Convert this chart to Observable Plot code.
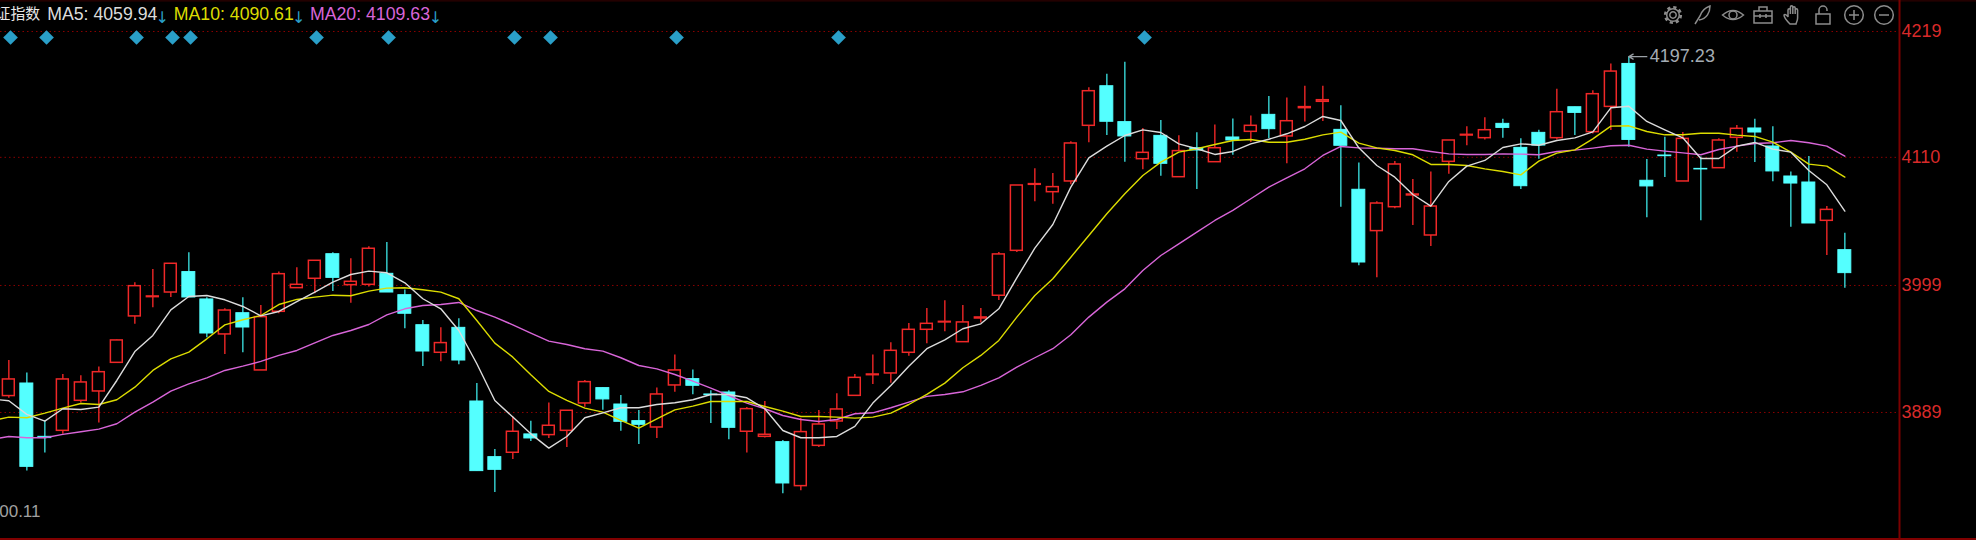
<!DOCTYPE html>
<html><head><meta charset="utf-8">
<script src="https://cdn.jsdelivr.net/npm/d3@7"></script>
<script src="https://cdn.jsdelivr.net/npm/@observablehq/plot@0.6"></script>
<style>html,body{margin:0;padding:0;background:#000;overflow:hidden}svg{display:block}</style>
</head><body><div id="chart"></div>
<script>
const highs=[3934.0,3923.1,3882.1,3921.9,3920.8,3928.3,3951.7,4001.3,4012.9,4018.1,4027.3,3988.3,3978.8,3988.3,3981.7,4010.6,4014.3,4020.7,4027.3,4022.1,4032.5,4036.2,3995.0,3968.7,3962.3,3970.1,3914.1,3857.0,3885.0,3881.5,3897.1,3890.5,3916.7,3910.1,3903.7,3890.7,3910.1,3938.7,3925.7,3907.8,3907.8,3893.3,3898.5,3864.8,3883.8,3890.7,3905.2,3921.9,3938.7,3949.3,3966.1,3979.1,3985.7,3981.7,3979.1,4027.6,4085.6,4100.1,4096.0,4123.4,4170.2,4182.0,4192.4,4135.0,4141.9,4128.6,4131.2,4137.9,4143.1,4145.7,4162.7,4161.3,4171.6,4171.6,4154.6,4105.2,4071.5,4106.4,4090.8,4097.4,4124.6,4136.4,4144.2,4143.0,4126.0,4133.5,4169.0,4153.4,4167.6,4190.9,4197.23,4108.1,4127.5,4131.5,4110.2,4126.0,4137.6,4143.0,4136.4,4097.4,4110.7,4067.4,4044.3];
const opens=[3903.2,3914.1,3867.9,3873.1,3899.1,3907.2,3932.0,3972.2,3988.9,3992.9,4010.6,3986.9,3956.6,3975.0,3925.4,3976.2,3996.7,4004.8,4026.1,3999.3,3999.6,4009.1,3990.6,3964.6,3940.7,3962.3,3898.5,3850.3,3854.1,3870.0,3869.4,3873.1,3896.8,3910.1,3895.9,3881.5,3876.0,3912.4,3917.9,3904.6,3906.3,3872.3,3867.9,3863.3,3825.2,3860.1,3881.2,3903.4,3921.3,3922.8,3940.7,3960.6,3967.0,3949.9,3970.4,3990.1,4029.0,4086.2,4079.8,4089.1,4137.3,4171.6,4140.5,4108.4,4128.6,4092.8,4117.9,4105.8,4127.2,4132.1,4146.8,4128.1,4152.6,4158.1,4133.8,4081.9,4046.1,4066.8,4077.0,4042.3,4106.1,4128.9,4126.6,4139.0,4118.2,4131.2,4126.6,4153.4,4131.8,4153.7,4190.9,4089.7,4111.6,4089.1,4100.0,4100.6,4126.9,4135.0,4119.4,4093.4,4088.2,4055.0,4029.6];
const closes=[3917.6,3841.9,3866.8,3917.6,3915.0,3923.9,3951.4,3998.4,3989.5,4017.8,3988.6,3957.4,3977.3,3962.6,3971.6,4008.8,3999.6,4020.4,4005.6,4002.2,4030.8,3992.9,3974.5,3941.8,3949.1,3934.0,3838.2,3839.3,3872.3,3866.5,3877.5,3890.5,3915.3,3900.3,3880.9,3878.3,3904.6,3925.4,3912.1,3904.0,3875.7,3891.9,3869.7,3827.5,3872.0,3878.6,3891.6,3919.0,3921.9,3942.4,3960.6,3965.8,3967.5,3967.0,3971.3,4025.9,4085.6,4086.8,4084.2,4122.0,4167.3,4140.8,4128.1,4113.9,4104.4,4115.4,4115.9,4117.9,4124.6,4137.3,4134.4,4141.3,4153.5,4159.5,4120.0,4018.9,4070.0,4103.8,4077.8,4067.4,4124.6,4129.5,4133.5,4135.5,4085.0,4120.2,4149.1,4148.5,4164.7,4184.3,4125.1,4084.8,4111.0,4126.0,4099.5,4124.6,4134.7,4131.5,4097.8,4087.3,4052.7,4064.5,4009.7];
const lows=[3901.4,3838.2,3853.8,3870.2,3897.1,3879.8,3932.0,3965.5,3979.7,3988.6,3988.6,3953.7,3939.2,3940.7,3925.4,3974.5,3996.7,3991.8,3993.8,3983.7,3997.6,3992.9,3961.5,3928.8,3932.9,3930.3,3838.2,3819.7,3848.3,3863.9,3866.5,3858.7,3893.6,3891.0,3872.8,3861.3,3866.5,3906.6,3904.3,3879.5,3865.3,3853.8,3866.8,3818.6,3821.2,3858.7,3874.3,3903.4,3913.3,3914.4,3937.8,3948.5,3958.9,3949.9,3966.4,3986.0,4027.6,4071.5,4069.4,4086.2,4122.6,4128.9,4105.8,4099.2,4093.7,4092.8,4082.2,4105.8,4111.9,4122.9,4126.0,4104.4,4140.5,4141.0,4066.8,4016.0,4005.6,4065.4,4051.0,4032.8,4095.4,4120.0,4125.1,4126.6,4082.1,4108.4,4125.1,4128.9,4130.3,4133.2,4118.8,4057.6,4092.5,4089.1,4055.0,4100.6,4114.5,4105.5,4088.8,4049.5,4052.7,4025.0,3996.7];
// moving averages start one session before the first visible candle (clipped at the left edge)
const ma5=[3900.8,3899.1,3887.3,3881.5,3892.2,3891.6,3893.6,3916.7,3941.8,3955.7,3977.9,3989.5,3990.3,3986.6,3980.8,3972.7,3976.5,3985.1,3993.2,4001.9,4008.5,4011.4,4010.0,4001.3,3987.5,3978.8,3960.0,3931.2,3899.4,3885.0,3870.5,3858.1,3868.2,3884.4,3888.7,3893.1,3893.1,3895.9,3897.4,3900.0,3904.6,3904.6,3901.7,3892.2,3873.4,3867.1,3867.1,3868.2,3876.9,3897.1,3912.4,3929.1,3944.2,3951.9,3961.5,3965.8,3978.8,4005.6,4031.3,4051.8,4084.2,4109.6,4119.7,4128.9,4133.8,4131.5,4121.7,4117.4,4112.5,4115.1,4121.7,4125.7,4130.4,4136.7,4145.4,4141.9,4118.2,4102.9,4092.8,4077.8,4067.7,4089.1,4102.4,4107.3,4118.5,4121.7,4120.5,4124.6,4126.9,4132.1,4152.9,4154.3,4141.1,4133.8,4126.9,4109.0,4109.0,4119.7,4122.9,4117.1,4114.5,4098.6,4086.2,4063.4];
const ma10=[3881.5,3885.0,3884.4,3888.4,3892.8,3896.8,3895.9,3900.0,3910.9,3925.4,3935.5,3941.3,3952.8,3964.9,3969.3,3973.0,3982.5,3986.9,3988.9,3990.6,3990.1,3994.1,3996.7,3997.0,3995.3,3993.2,3987.5,3968.7,3949.1,3936.9,3921.6,3907.2,3899.4,3892.8,3889.3,3882.1,3875.4,3883.5,3891.3,3894.5,3898.5,3898.5,3898.5,3894.2,3890.2,3885.5,3885.5,3885.0,3884.1,3885.0,3888.4,3895.9,3904.6,3914.4,3927.7,3938.4,3951.4,3971.6,3990.3,4004.8,4023.5,4042.3,4061.1,4078.4,4094.3,4105.8,4114.5,4117.4,4121.1,4124.6,4125.5,4123.1,4123.1,4125.7,4129.5,4131.8,4122.3,4118.2,4115.9,4112.2,4103.8,4103.8,4102.9,4100.0,4097.7,4094.8,4106.7,4113.6,4116.5,4126.0,4137.0,4137.3,4132.4,4129.5,4129.5,4130.9,4130.9,4129.2,4128.1,4123.2,4114.5,4104.1,4102.4,4092.9];
const ma20=[3865.6,3868.2,3867.1,3867.1,3870.0,3872.3,3874.6,3879.2,3889.3,3898.0,3907.5,3913.8,3919.0,3925.4,3929.1,3933.2,3938.4,3942.7,3949.3,3955.7,3960.0,3965.2,3973.6,3978.8,3981.7,3982.5,3984.3,3977.3,3971.6,3964.9,3957.7,3950.8,3947.9,3944.2,3942.1,3936.4,3929.7,3926.8,3921.9,3916.1,3910.1,3903.7,3897.1,3892.2,3886.4,3882.9,3881.2,3882.9,3887.9,3888.7,3893.1,3898.0,3902.9,3904.6,3906.9,3912.4,3919.0,3928.3,3936.4,3944.2,3956.3,3971.6,3984.6,3996.1,4012.0,4025.0,4035.1,4045.2,4055.3,4064.0,4074.1,4084.2,4092.3,4100.1,4111.6,4119.4,4118.2,4117.9,4117.4,4117.4,4115.1,4113.0,4112.5,4112.5,4113.0,4112.8,4112.2,4115.1,4116.2,4118.0,4120.0,4120.5,4117.1,4115.4,4113.9,4112.2,4116.8,4119.7,4122.0,4122.6,4124.6,4122.6,4119.7,4111.0];
const signalDays=[0,2,7,9,10,17,21,28,30,37,46,63];
const signalLevel=4213.8;
const yTicks=[4219,4110,3999,3889];
const maLabels=["MA5: 4059.94","MA10: 4090.61","MA20: 4109.63"];
const maColors=["#dcdcdc","#dcdc00","#d865d8"];
const indexName="证指数";
const peakValue=4197.23, peakDay=90;
const lowLabel="00.11", lowLabelLevel=3803.5;

const days=highs.map((_,i)=>i);
const red="#f02828", redWick="#e02424", cyan="#54ffff", cyanWick="#35c8c8";
const ups=days.filter(i=>closes[i]>=opens[i]);
const downs=days.filter(i=>closes[i]<opens[i]);
const bodyTop=i=>Math.max(opens[i],closes[i]), bodyBot=i=>Math.min(opens[i],closes[i]);
const maDays=[-1,...days];
const line=(vals,color)=>Plot.line(maDays,{x:d=>d,y:(d,i)=>vals[i],stroke:color,strokeWidth:1.4,clip:true});

const iconColor="#8c8c8c";
const icons=[
 [1673,`<circle r="3.2"/><circle r="6.3"/><circle r="7.8" stroke-width="2.6" stroke-dasharray="3.2 2.93"/>`],
 [1702,`<path d="M-7 9L-2 1C0-5 5-8 8-9C8-3 5 4-3 5M-7 9"/>`],
 [1733,`<path d="M-10.5 0Q0-9 10.5 0Q0 9-10.5 0Z"/><circle r="4"/>`],
 [1763,`<path d="M-9-4H9V8H-9ZM-4-4V-8H4V-4M-9 1H9M-3 -1V3M3 -1V3"/>`],
 [1793,`<path d="M-3 9C-6 6-9 2-9 0C-8-1-6 0-5 2V-5a1.2 1.2 0 0 1 2.4 0V-1V-8a1.2 1.2 0 0 1 2.4 0V-1V-7a1.2 1.2 0 0 1 2.4 0V-1V-5a1.2 1.2 0 0 1 2.4 0V3C4.6 6 3 8 3 9Z"/>`],
 [1823,`<path d="M-7 -1H7V9H-7ZM-4-1V-5a4 4 0 0 1 8 0V-4"/>`],
 [1854,`<circle r="9.3"/><path d="M-5 0H5M0-5V5"/>`],
 [1884,`<circle r="9.3"/><path d="M-5 0H5"/>`]
];
function toolbar(){
  const g=d3.create("svg:g").attr("fill","none").attr("stroke",iconColor).attr("stroke-width",1.5);
  for(const [x,inner] of icons) g.append("g").attr("transform",`translate(${x},15)`).html(inner);
  return g.node();
}
const headerFont="Liberation Sans, Arial, sans-serif";
const header=(t,dx,fill,extra={})=>Plot.text([t],{text:d=>d,frameAnchor:"top-left",dx,dy:14,textAnchor:"start",lineAnchor:"middle",fill,fontFamily:headerFont,fontSize:17.7,...extra});

const chart=Plot.plot({
  width:1976,height:540,
  marginTop:0,marginBottom:0,marginLeft:0,marginRight:77,
  style:{background:"#000",fontFamily:headerFont},
  x:{domain:[-0.4628,105.0372],range:[0,1899],axis:null},
  y:{domain:[3778.1,4245.85],range:[540,0]},
  marks:[
    Plot.ruleY(yTicks,{stroke:"#8a0000",strokeWidth:1,strokeDasharray:"1.5 3"}),
    Plot.ruleY([4245.5],{x1:-0.4628,x2:109.32,stroke:"#3a0000",strokeWidth:1}),
    Plot.ruleY([3779.3],{x1:-0.4628,x2:109.32,stroke:"#800000",strokeWidth:2}),
    Plot.ruleX([105.0372],{stroke:"#7a0000",strokeWidth:2}),
    Plot.axisY({anchor:"right",ticks:yTicks,tickSize:0,tickPadding:2,tickFormat:d=>String(d),label:null,fill:"#d82a2a",fontSize:18,textAnchor:"start",fontFamily:headerFont}),
    // wicks
    Plot.ruleX(ups,{x:d=>d,y1:d=>highs[d],y2:d=>bodyTop(d),stroke:redWick,strokeWidth:1.5}),
    Plot.ruleX(ups,{x:d=>d,y1:d=>bodyBot(d),y2:d=>lows[d],stroke:redWick,strokeWidth:1.5}),
    Plot.ruleX(downs,{x:d=>d,y1:d=>highs[d],y2:d=>lows[d],stroke:cyanWick,strokeWidth:1.5}),
    // bodies
    Plot.rect(ups,{x1:d=>d-0.33,x2:d=>d+0.33,y1:d=>bodyBot(d),y2:d=>bodyTop(d),fill:"#000",stroke:red,strokeWidth:1.5}),
    Plot.rect(downs,{x1:d=>d-0.36,x2:d=>d+0.36,y1:d=>bodyBot(d),y2:d=>bodyTop(d),fill:cyan,stroke:cyan,strokeWidth:1}),
    // moving averages
    line(ma20,maColors[2]),
    line(ma10,maColors[1]),
    line(ma5,maColors[0]),
    // signal diamonds
    Plot.dot(signalDays,{x:d=>d,y:()=>signalLevel,dx:1.7,symbol:"diamond2",r:6.6,fill:"#2a9fc8",stroke:"none"}),
    // peak annotation
    Plot.arrow([peakDay],{x1:d=>d+1,y1:()=>peakValue,x2:d=>d,y2:()=>peakValue,stroke:"#9aa0a6",strokeWidth:1.25,headLength:6,bend:0}),
    Plot.text([peakValue],{x:()=>peakDay,y:d=>d,dx:21,text:d=>String(d),textAnchor:"start",fill:"#a4acb4",fontSize:18,fontFamily:headerFont}),
    // low label
    Plot.text([lowLabel],{x:()=>1.76,y:()=>lowLabelLevel,text:d=>d,textAnchor:"end",fill:"#a0a0a0",fontSize:17,fontFamily:headerFont}),
    // header
    Plot.text([indexName],{text:d=>d,frameAnchor:"top-left",dx:39.5,dy:14,textAnchor:"end",lineAnchor:"middle",fill:"#e8e8e8",fontFamily:"Noto Sans CJK SC",fontSize:14.8}),
    header(maLabels[0],46.7,maColors[0]),
    header("↓",161.7,"#2a9fc8",{textAnchor:"middle",fontFamily:"DejaVu Sans",fontSize:16,dy:17}),
    header(maLabels[1],173.3,maColors[1]),
    header("↓",298.3,"#2a9fc8",{textAnchor:"middle",fontFamily:"DejaVu Sans",fontSize:16,dy:17}),
    header(maLabels[2],309.5,maColors[2]),
    header("↓",435,"#2a9fc8",{textAnchor:"middle",fontFamily:"DejaVu Sans",fontSize:16,dy:17}),
    toolbar
  ]
});
document.getElementById("chart").append(chart);
</script>
</body></html>
